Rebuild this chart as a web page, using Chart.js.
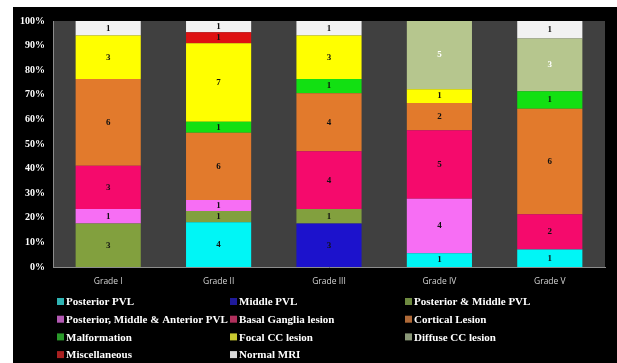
<!DOCTYPE html>
<html>
<head>
<meta charset="utf-8">
<script src="https://cdn.jsdelivr.net/npm/chart.js@4"></script>
<style>
    body { margin: 0; background: #fff; }
    #wrap { position: absolute; left: 13px; top: 7px; width: 604px; height: 356px; background: #000; }
    canvas { display: block; }
</style>
</head>
<body>
<div id="wrap"><canvas id="mri-chart" width="604" height="356"></canvas></div>
<script>
const grades = ['Grade I', 'Grade II', 'Grade III', 'Grade IV', 'Grade V'];
const lesionTypes = [
    'Posterior PVL', 'Middle PVL', 'Posterior & Middle PVL',
    'Posterior, Middle & Anterior PVL', 'Basal Ganglia lesion', 'Cortical Lesion',
    'Malformation', 'Focal CC lesion', 'Diffuse CC lesion',
    'Miscellaneous', 'Normal MRI'
];
// case counts per grade (bottom of stack first)
const posteriorPVL = [0, 4, 0, 1, 1];
const middlePVL = [0, 0, 3, 0, 0];
const postMiddlePVL = [3, 1, 1, 0, 0];
const postMiddleAntPVL = [1, 1, 0, 4, 0];
const basalGanglia = [3, 0, 4, 5, 2];
const cortical = [6, 6, 4, 2, 6];
const malformation = [0, 1, 1, 0, 1];
const focalCC = [3, 7, 3, 1, 0];
const diffuseCC = [0, 0, 0, 5, 3];
const miscellaneous = [0, 1, 0, 0, 0];
const normalMRI = [1, 1, 1, 0, 1];
const yTicks = [0, 10, 20, 30, 40, 50, 60, 70, 80, 90, 100];

const series = [posteriorPVL, middlePVL, postMiddlePVL, postMiddleAntPVL, basalGanglia,
    cortical, malformation, focalCC, diffuseCC, miscellaneous, normalMRI];
const colors = ['#00f6f6', '#1c12cc', '#82a03e', '#f76ef4', '#f50a6c', '#e27a2c',
    '#12e012', '#ffff00', '#b6c68e', '#de1212', '#f2f2f2'];
const legendColors = ['#2fb3b3', '#1f1a9a', '#6e8a40', '#b45ab4', '#b0305c', '#b06a38',
    '#2a9a2a', '#c8c830', '#8a9878', '#a82020', '#d8d8d8'];
const labelColors = ['#111', '#111', '#111', '#111', '#111', '#111', '#111', '#111', '#fff', '#111', '#111'];

const totals = grades.map((g, i) => series.reduce((s, arr) => s + arr[i], 0));

const plotBg = {
    id: 'plotBg',
    beforeDraw(chart) {
        const { ctx, chartArea: a } = chart;
        ctx.save();
        ctx.fillStyle = '#404040';
        ctx.fillRect(a.left, a.top, a.right - a.left, a.bottom - a.top);
        ctx.restore();
    }
};

const segLabels = {
    id: 'segLabels',
    afterDatasetsDraw(chart) {
        const ctx = chart.ctx;
        ctx.save();
        ctx.font = 'bold 9px "Liberation Serif"';
        ctx.textAlign = 'center';
        ctx.textBaseline = 'middle';
        chart.data.datasets.forEach((ds, d) => {
            chart.getDatasetMeta(d).data.forEach((bar, i) => {
                if (!ds.counts[i]) return;
                ctx.fillStyle = labelColors[d];
                ctx.fillText(ds.counts[i], bar.x, (bar.y + bar.base) / 2);
            });
        });
        ctx.restore();
    }
};

const gridLegend = {
    id: 'gridLegend',
    afterDraw(chart) {
        const ctx = chart.ctx;
        const cols = [44, 217, 392];
        ctx.save();
        ctx.font = 'bold 11px "Liberation Serif"';
        ctx.textBaseline = 'middle';
        chart.data.datasets.forEach((ds, d) => {
            const x = cols[d % 3];
            const y = 295 + Math.floor(d / 3) * 17.7;
            ctx.fillStyle = legendColors[d];
            ctx.fillRect(x, y - 4, 7, 7);
            ctx.fillStyle = '#fff';
            ctx.fillText(ds.label, x + 9, y + 0.5);
        });
        ctx.restore();
    }
};

const ctx = document.getElementById('mri-chart').getContext('2d');
new Chart(ctx, {
    type: 'bar',
    data: {
        labels: grades,
        datasets: series.map((arr, d) => ({
            label: lesionTypes[d],
            counts: arr,
            data: arr.map((v, i) => v / totals[i] * 100),
            backgroundColor: colors[d],
            borderWidth: 0,
            categoryPercentage: 1,
            barPercentage: 0.59
        }))
    },
    options: {
        responsive: false,
        animation: false,
        layout: { padding: { top: 9, right: 12, left: 0, bottom: 0 } },
        plugins: { legend: { display: false }, tooltip: { enabled: false } },
        scales: {
            x: {
                stacked: true,
                grid: { display: false, drawTicks: false },
                border: { color: '#8c8c8c', width: 1 },
                ticks: { color: '#d4d4d4', font: { family: 'Open Sans', size: 8.5 }, padding: 9 },
                afterFit(scale) { scale.height = 96; }
            },
            y: {
                stacked: true,
                min: 0,
                max: 100,
                afterBuildTicks(scale) { scale.ticks = yTicks.map(v => ({ value: v })); },
                grid: { display: false, drawTicks: false },
                border: { color: '#8c8c8c', width: 1 },
                ticks: {
                    color: '#fff',
                    font: { family: 'Liberation Serif', size: 10, weight: 'bold' },
                    padding: 8,
                    callback: v => v + '%'
                },
                afterFit(scale) { scale.width = 40; }
            }
        }
    },
    plugins: [plotBg, segLabels, gridLegend]
});
</script>
</body>
</html>
